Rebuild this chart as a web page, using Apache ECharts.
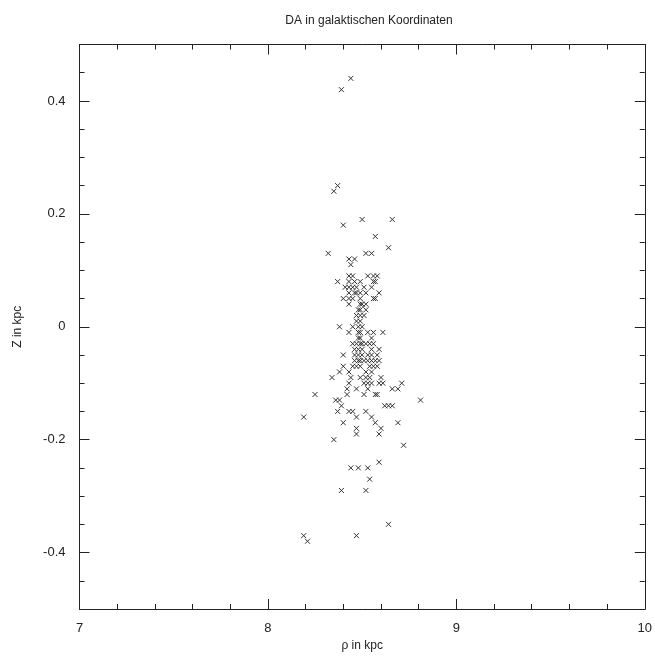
<!DOCTYPE html>
<html><head><meta charset="utf-8">
<script src="https://cdn.jsdelivr.net/npm/echarts@6/dist/echarts.min.js"></script>
<style>html,body{margin:0;padding:0;background:#fff}#c{width:655px;height:657px}</style>
</head><body><div id="c"></div>
<script>
// rho (kpc) and Z (kpc) of each DA white dwarf
const rho = [
  8.44, 8.39, 8.37, 8.35, 8.50, 8.66, 8.40, 8.57, 8.64, 8.32, 8.52, 8.55, 8.43, 8.46, 8.44,
  8.43, 8.45, 8.53, 8.56, 8.58,
  8.37, 8.43, 8.46, 8.49, 8.56, 8.57,
  8.41, 8.43, 8.45, 8.47, 8.51, 8.55,
  8.43, 8.46, 8.47, 8.49, 8.52, 8.59,
  8.40, 8.43, 8.45, 8.49, 8.56, 8.57,
  8.43, 8.49, 8.50, 8.52,
  8.48, 8.49, 8.52,
  8.47, 8.49, 8.51,
  8.47, 8.49,
  8.38, 8.45, 8.48, 8.50,
  8.43, 8.48, 8.49, 8.53, 8.56, 8.61,
  8.48, 8.49, 8.55,
  8.45, 8.47, 8.49, 8.50, 8.52, 8.54, 8.56,
  8.46, 8.48, 8.50, 8.55, 8.59,
  8.40, 8.46, 8.48, 8.50, 8.53, 8.55, 8.58,
  8.46, 8.48, 8.49, 8.51, 8.53, 8.55, 8.57, 8.59,
  8.40, 8.45, 8.47, 8.49, 8.54, 8.56, 8.58,
  8.38, 8.43, 8.52, 8.55,
  8.34, 8.44, 8.49, 8.52, 8.54, 8.60,
  8.43, 8.51, 8.53, 8.55, 8.59, 8.61, 8.71,
  8.42, 8.47, 8.53, 8.66, 8.69,
  8.25, 8.42, 8.51, 8.57, 8.58,
  8.36, 8.38, 8.81,
  8.39, 8.62, 8.64, 8.66,
  8.37, 8.43, 8.45, 8.52,
  8.19, 8.47, 8.55,
  8.40, 8.57, 8.69,
  8.47, 8.60,
  8.47, 8.59,
  8.35,
  8.72,
  8.59,
  8.44, 8.48, 8.53,
  8.54,
  8.39, 8.52,
  8.64,
  8.19, 8.47,
  8.21
];
const z = [
  0.44, 0.42, 0.25, 0.24, 0.19, 0.19, 0.18, 0.16, 0.14, 0.13, 0.13, 0.13, 0.12, 0.12, 0.11,
  0.09, 0.09, 0.09, 0.09, 0.09,
  0.08, 0.08, 0.08, 0.08, 0.08, 0.08,
  0.07, 0.07, 0.07, 0.07, 0.07, 0.07,
  0.06, 0.06, 0.06, 0.06, 0.06, 0.06,
  0.05, 0.05, 0.05, 0.05, 0.05, 0.05,
  0.04, 0.04, 0.04, 0.04,
  0.03, 0.03, 0.03,
  0.02, 0.02, 0.02,
  0.01, 0.01,
  0.00, 0.00, 0.00, 0.00,
  -0.01, -0.01, -0.01, -0.01, -0.01, -0.01,
  -0.02, -0.02, -0.02,
  -0.03, -0.03, -0.03, -0.03, -0.03, -0.03, -0.03,
  -0.04, -0.04, -0.04, -0.04, -0.04,
  -0.05, -0.05, -0.05, -0.05, -0.05, -0.05, -0.05,
  -0.06, -0.06, -0.06, -0.06, -0.06, -0.06, -0.06, -0.06,
  -0.07, -0.07, -0.07, -0.07, -0.07, -0.07, -0.07,
  -0.08, -0.08, -0.08, -0.08,
  -0.09, -0.09, -0.09, -0.09, -0.09, -0.09,
  -0.10, -0.10, -0.10, -0.10, -0.10, -0.10, -0.10,
  -0.11, -0.11, -0.11, -0.11, -0.11,
  -0.12, -0.12, -0.12, -0.12, -0.12,
  -0.13, -0.13, -0.13,
  -0.14, -0.14, -0.14, -0.14,
  -0.15, -0.15, -0.15, -0.15,
  -0.16, -0.16, -0.16,
  -0.17, -0.17, -0.17,
  -0.18, -0.18,
  -0.19, -0.19,
  -0.20,
  -0.21,
  -0.24,
  -0.25, -0.25, -0.25,
  -0.27,
  -0.29, -0.29,
  -0.35,
  -0.37, -0.37,
  -0.38
];
const xTicks = [7, 8, 9, 10];
const yTicks = [-0.4, -0.2, 0, 0.2, 0.4];
const xRange = [7, 10];
const yRange = [-0.5, 0.5];

const points = rho.map((r, i) => [r, z[i]]);
const FONT = 'Liberation Sans';
const ink = '#222';
const lineStyle = { color: ink, width: 1 };

function yAx(pos, major, withLabels) {
  return {
    type: 'value', position: pos, min: yRange[0], max: yRange[1],
    interval: 0.05,
    name: withLabels ? 'Z in kpc' : '', nameLocation: 'middle', nameGap: 56,
    nameTextStyle: { fontFamily: FONT, fontSize: 12, color: ink },
    axisLine: { show: true, onZero: false, lineStyle },
    axisTick: major
      ? { show: true, inside: true, length: 10, customValues: yTicks, lineStyle }
      : { show: true, inside: true, length: 5, lineStyle },
    axisLabel: withLabels
      ? { show: true, customValues: yTicks, margin: 14, fontFamily: FONT, fontSize: 13, color: ink,
          formatter: v => (Math.abs(v) < 1e-9 ? '0' : String(Math.round(v * 10) / 10)) }
      : { show: false },
    splitLine: { show: false }
  };
}
function xAx(pos, withLabels) {
  return {
    type: 'value', position: pos, min: xRange[0], max: xRange[1], interval: 1,
    name: withLabels ? 'ρ in kpc' : '', nameLocation: 'middle', nameGap: 31,
    nameTextStyle: { fontFamily: FONT, fontSize: 12, color: ink },
    axisLine: { show: true, onZero: false, lineStyle },
    axisTick: { show: true, inside: true, length: 10, lineStyle },
    minorTick: { show: true, splitNumber: 5, length: 5, lineStyle },
    axisLabel: withLabels
      ? { show: true, margin: 13, fontFamily: FONT, fontSize: 13, color: ink,
          formatter: v => (xTicks.includes(v) ? String(v) : '') }
      : { show: false },
    splitLine: { show: false }
  };
}

const chart = echarts.init(document.getElementById('c'), null, { renderer: 'canvas' });
chart.setOption({
  animation: false,
  backgroundColor: '#fff',
  title: {
    text: 'DA in galaktischen Koordinaten',
    left: 364, top: 10, textAlign: 'center',
    textStyle: { fontFamily: FONT, fontSize: 12, fontWeight: 'normal', color: ink }
  },
  grid: { left: 79.5, right: 5, top: 44.5, bottom: 45.5, containLabel: false },
  xAxis: [xAx('bottom', true), xAx('top', false)],
  yAxis: [yAx('left', true, true), yAx('left', false, false), yAx('right', true, false), yAx('right', false, false)],
  series: [{
    type: 'scatter', xAxisIndex: 0, yAxisIndex: 0,
    data: points,
    symbol: 'path://M0 0L10 10M10 0L0 10',
    symbolSize: 5,
    itemStyle: { color: 'rgba(0,0,0,0)', borderColor: '#333', borderWidth: 1, opacity: 1 }
  }]
});
</script>
</body></html>
